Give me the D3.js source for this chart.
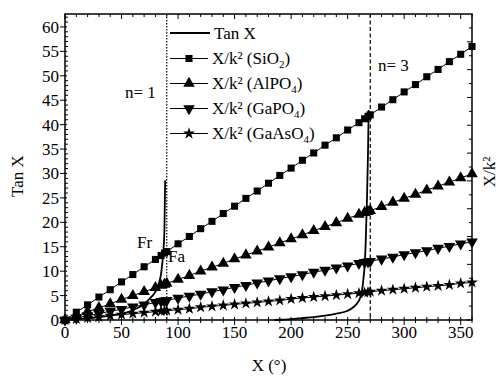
<!DOCTYPE html>
<html>
<head>
<meta charset="utf-8">
<script src="https://cdn.jsdelivr.net/npm/d3@7"></script>
<style>
  body { margin: 0; background: #fff; }
  svg { display: block; }
  svg text { font-family: "Liberation Serif", "Times New Roman", "DejaVu Serif", serif; }
</style>
</head>
<body>
<div id="container"></div>
<script>
// Data
const xDeg = [0, 10, 20, 30, 40, 50, 60, 70, 80, 85, 88, 90, 100, 110, 120, 130, 140, 150, 160, 170, 180,
  190, 200, 210, 220, 230, 240, 250, 260, 265, 268, 270, 280, 290, 300, 310, 320, 330, 340, 350, 360];
const sio2 = [0, 1.6, 3.1, 4.7, 6.2, 7.8, 9.3, 10.9, 12.4, 13.2, 13.7, 14.0, 15.6, 17.1, 18.7, 20.2, 21.8, 23.3, 24.9, 26.4, 28.0,
  29.6, 31.1, 32.7, 34.2, 35.8, 37.3, 38.9, 40.4, 41.2, 41.7, 42.0, 43.6, 45.1, 46.7, 48.2, 49.8, 51.3, 52.9, 54.4, 56.0];
const alpo4 = [0, 0.8, 1.7, 2.5, 3.3, 4.2, 5.0, 5.8, 6.6, 7.1, 7.3, 7.5, 8.3, 9.1, 10.0, 10.8, 11.6, 12.5, 13.3, 14.1, 14.9,
  15.8, 16.6, 17.4, 18.3, 19.1, 19.9, 20.8, 21.6, 22.0, 22.2, 22.4, 23.2, 24.1, 24.9, 25.7, 26.6, 27.4, 28.2, 29.1, 29.9];
const gapo4 = [0, 0.4, 0.9, 1.3, 1.8, 2.2, 2.7, 3.1, 3.6, 3.8, 3.9, 4.0, 4.5, 4.9, 5.3, 5.8, 6.2, 6.7, 7.1, 7.6, 8.0,
  8.5, 8.9, 9.3, 9.8, 10.2, 10.7, 11.1, 11.6, 11.8, 11.9, 12.0, 12.5, 12.9, 13.4, 13.8, 14.2, 14.7, 15.1, 15.6, 16.0];
const gaaso4 = [0, 0.2, 0.4, 0.6, 0.9, 1.1, 1.3, 1.5, 1.7, 1.8, 1.9, 1.9, 2.1, 2.3, 2.6, 2.8, 3.0, 3.2, 3.4, 3.6, 3.8,
  4.0, 4.3, 4.5, 4.7, 4.9, 5.1, 5.3, 5.5, 5.6, 5.7, 5.8, 6.0, 6.2, 6.4, 6.6, 6.8, 7.0, 7.2, 7.5, 7.7];

// tan X, two visible branches
const tanX1 = [0, 10, 20, 30, 40, 50, 60, 70, 75, 80, 83, 85, 86, 87, 88, 88.6];
const tanY1 = [0, 0.15, 0.35, 0.6, 0.9, 1.3, 2.0, 3.3, 4.4, 5.8, 7.5, 9.5, 11.5, 14, 19, 28.6];
const tanX2 = [185, 190, 200, 210, 220, 230, 240, 250, 255, 258, 261, 263, 264, 265, 266, 267, 268, 268.6];
const tanY2 = [0, 0.05, 0.2, 0.4, 0.6, 0.9, 1.3, 1.9, 2.6, 3.3, 4.5, 6.5, 8.5, 11, 16, 24, 34, 43];

const xTicks = [0, 50, 100, 150, 200, 250, 300, 350];
const yTicks = [0, 5, 10, 15, 20, 25, 30, 35, 40, 45, 50, 55, 60];
const modeLines = [{ x: 90, label: "n= 1", dash: "1.5,1.5" }, { x: 270, label: "n= 3", dash: "4,2.5" }];

const width = 500;
const height = 378;
const marginTop = 14;
const marginRight = 28;
const marginBottom = 58;
const marginLeft = 65;

const svg = d3.create("svg").attr("width", width).attr("height", height);

const x = d3.scaleLinear().domain([0, 360]).range([marginLeft, width - marginRight]);
const y = d3.scaleLinear().domain([0, 62.65]).range([height - marginBottom, marginTop]);
// right axis (X/k^2), unlabeled ticks
const yR = d3.scaleLinear().domain([0, 55]).range([height - marginBottom, marginTop]);

const x0 = marginLeft, x1 = width - marginRight, y0 = height - marginBottom, y1 = marginTop;

// ticks
const tickG = svg.append("g").attr("stroke", "#000").attr("stroke-width", 1);
d3.range(0, 361, 10).forEach(v => {
  const major = v % 50 === 0;
  tickG.append("line").attr("x1", x(v)).attr("x2", x(v)).attr("y1", y0 - 3).attr("y2", y0 + (major ? 5 : 3));
  tickG.append("line").attr("x1", x(v)).attr("x2", x(v)).attr("y1", y1).attr("y2", y1 + (major ? 5 : 3));
});
d3.range(0, 63, 1).forEach(v => {
  if (v % 5 === 0) {
    tickG.append("line").attr("x1", x0 - 5).attr("x2", x0 + 2).attr("y1", y(v)).attr("y2", y(v));
  } else {
    tickG.append("line").attr("x1", x0).attr("x2", x0 + 3).attr("y1", y(v)).attr("y2", y(v));
  }
});
d3.range(0, 55, 2.5).forEach(v => {
  const major = v % 5 === 0;
  tickG.append("line").attr("x1", x1 - (major ? 5 : 3)).attr("x2", x1).attr("y1", yR(v)).attr("y2", yR(v));
});

// tick labels
svg.append("g")
  .attr("font-size", 17)
  .attr("text-anchor", "middle")
  .selectAll("text")
  .data(xTicks)
  .join("text")
  .attr("x", d => x(d))
  .attr("y", y0 + 18)
  .text(d => d);

svg.append("g")
  .attr("font-size", 17)
  .attr("text-anchor", "end")
  .selectAll("text")
  .data(yTicks)
  .join("text")
  .attr("x", x0 - 6)
  .attr("y", d => y(d) + 6)
  .text(d => d);

// vertical lines at the modes
svg.append("g")
  .selectAll("line")
  .data(modeLines)
  .join("line")
  .attr("x1", d => x(d.x)).attr("x2", d => x(d.x))
  .attr("y1", y1).attr("y2", y0)
  .attr("stroke", "#000")
  .attr("stroke-width", 1.2)
  .attr("stroke-dasharray", d => d.dash);

// series with markers
const series = [
  { name: "SiO", sub: "2", values: sio2, symbol: d3.symbolSquare, size: 50, rot: 0 },
  { name: "AlPO", sub: "4", values: alpo4, symbol: d3.symbolTriangle, size: 58, rot: 0 },
  { name: "GaPO", sub: "4", values: gapo4, symbol: d3.symbolTriangle, size: 58, rot: 180 },
  { name: "GaAsO", sub: "4", values: gaaso4, symbol: d3.symbolStar, size: 44, rot: 0 }
];

const line = d3.line().x(d => x(d[0])).y(d => y(d[1]));

series.forEach(s => {
  const pts = xDeg.map((v, i) => [v, s.values[i]]);
  svg.append("path")
    .datum(pts)
    .attr("fill", "none")
    .attr("stroke", "#000")
    .attr("stroke-width", 1)
    .attr("d", line);
  svg.append("g")
    .selectAll("path")
    .data(pts)
    .join("path")
    .attr("transform", d => `translate(${x(d[0])},${y(d[1])}) rotate(${s.rot})`)
    .attr("d", d3.symbol(s.symbol, s.size))
    .attr("fill", "#000");
});

// tan X
const tanLine = d3.line().x(d => x(d[0])).y(d => y(d[1])).curve(d3.curveMonotoneX);
[[tanX1, tanY1], [tanX2, tanY2]].forEach(([xs, ys]) => {
  svg.append("path")
    .datum(xs.map((v, i) => [v, ys[i]]))
    .attr("fill", "none")
    .attr("stroke", "#000")
    .attr("stroke-width", 1.8)
    .attr("d", tanLine);
});

// frame
svg.append("rect")
  .attr("x", x0).attr("y", y1)
  .attr("width", x1 - x0).attr("height", y0 - y1)
  .attr("fill", "none")
  .attr("stroke", "#000")
  .attr("stroke-width", 1.5);

// annotations
const notes = svg.append("g").attr("font-size", 17);
notes.append("text").attr("x", 125).attr("y", 98).text(modeLines[0].label);
notes.append("text").attr("x", 378).attr("y", 71).text(modeLines[1].label);
notes.append("text").attr("x", 137).attr("y", 248).text("Fr");
notes.append("text").attr("x", 168).attr("y", 262).text("Fa");

// legend
const legend = svg.append("g").attr("font-size", 17);
const rowY = [33, 58.5, 83.5, 108.5, 133.5];
legend.append("line")
  .attr("x1", 170).attr("x2", 210).attr("y1", rowY[0]).attr("y2", rowY[0])
  .attr("stroke", "#000").attr("stroke-width", 1.8);
legend.append("text").attr("x", 214).attr("y", rowY[0] + 5.5).text("Tan X");
series.forEach((s, i) => {
  const ry = rowY[i + 1];
  legend.append("line")
    .attr("x1", 170).attr("x2", 208).attr("y1", ry).attr("y2", ry)
    .attr("stroke", "#000").attr("stroke-width", 1);
  legend.append("path")
    .attr("transform", `translate(189,${ry}) rotate(${s.rot})`)
    .attr("d", d3.symbol(s.symbol, s.size))
    .attr("fill", "#000");
  const t = legend.append("text").attr("x", 212).attr("y", ry + 5.5);
  t.append("tspan").text("X/k² (" + s.name);
  t.append("tspan").attr("font-size", 11).attr("dy", 4).text(s.sub);
  t.append("tspan").attr("dy", -4).text(")");
});

// axis titles
svg.append("text")
  .attr("font-size", 17)
  .attr("text-anchor", "middle")
  .attr("x", 269).attr("y", 371)
  .text("X (°)");
svg.append("text")
  .attr("font-size", 17)
  .attr("text-anchor", "middle")
  .attr("transform", "translate(23,176) rotate(-90)")
  .text("Tan X");
svg.append("text")
  .attr("font-size", 17)
  .attr("text-anchor", "middle")
  .attr("transform", "translate(495,172) rotate(-90)")
  .text("X/k²");

document.getElementById("container").append(svg.node());
</script>
</body>
</html>
